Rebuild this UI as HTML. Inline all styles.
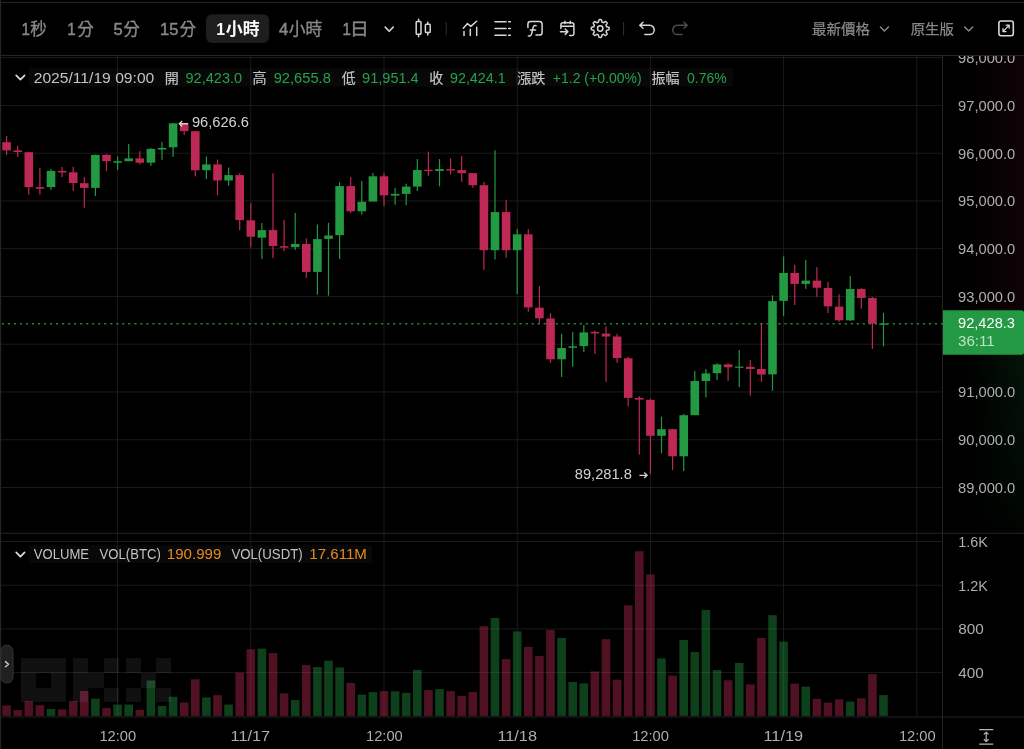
<!DOCTYPE html>
<html><head><meta charset="utf-8"><title>Chart</title>
<style>
html,body{margin:0;padding:0;background:#000;overflow:hidden}
svg{display:block;opacity:0.99}
text{font-family:"Liberation Sans",sans-serif;}
</style></head>
<body>
<svg width="1024" height="749" viewBox="0 0 1024 749">
<rect width="1024" height="749" fill="#000"/>
<defs>
<linearGradient id="tr" x1="0" x2="1" y1="0" y2="0"><stop offset="0" stop-color="#c02a55" stop-opacity="0"/><stop offset="1" stop-color="#c02a55" stop-opacity="0.085"/></linearGradient>
<linearGradient id="tg" x1="0" x2="1" y1="0" y2="0"><stop offset="0" stop-color="#239b43" stop-opacity="0"/><stop offset="1" stop-color="#239b43" stop-opacity="0.135"/></linearGradient>
<linearGradient id="fadeG" x1="0" x2="0" y1="0" y2="1"><stop offset="0" stop-color="#fff"/><stop offset="1" stop-color="#4a4a4a"/></linearGradient>
<mask id="mg"><rect x="940" y="354" width="84" height="180" fill="url(#fadeG)"/></mask>
</defs>
<rect x="962" y="56" width="62" height="254" fill="url(#tr)"/>
<rect x="962" y="354" width="62" height="180" fill="url(#tg)" mask="url(#mg)"/>
<rect x="0" y="57.14" width="942" height="1" fill="#1c1c1c"/>
<rect x="0" y="104.90" width="942" height="1" fill="#1c1c1c"/>
<rect x="0" y="152.66" width="942" height="1" fill="#1c1c1c"/>
<rect x="0" y="200.42" width="942" height="1" fill="#1c1c1c"/>
<rect x="0" y="248.18" width="942" height="1" fill="#1c1c1c"/>
<rect x="0" y="295.94" width="942" height="1" fill="#1c1c1c"/>
<rect x="0" y="343.70" width="942" height="1" fill="#1c1c1c"/>
<rect x="0" y="391.46" width="942" height="1" fill="#1c1c1c"/>
<rect x="0" y="439.22" width="942" height="1" fill="#1c1c1c"/>
<rect x="0" y="486.98" width="942" height="1" fill="#1c1c1c"/>
<rect x="0" y="541.00" width="942" height="1" fill="#1c1c1c"/>
<rect x="0" y="584.70" width="942" height="1" fill="#1c1c1c"/>
<rect x="0" y="628.40" width="942" height="1" fill="#1c1c1c"/>
<rect x="0" y="672.10" width="942" height="1" fill="#1c1c1c"/>
<rect x="117.10" y="56" width="1" height="661" fill="#1c1c1c"/>
<rect x="250.30" y="56" width="1" height="661" fill="#1c1c1c"/>
<rect x="383.50" y="56" width="1" height="661" fill="#1c1c1c"/>
<rect x="516.70" y="56" width="1" height="661" fill="#1c1c1c"/>
<rect x="649.90" y="56" width="1" height="661" fill="#1c1c1c"/>
<rect x="783.10" y="56" width="1" height="661" fill="#1c1c1c"/>
<rect x="916.30" y="56" width="1" height="661" fill="#1c1c1c"/>
<rect x="0" y="54.9" width="1024" height="1.2" fill="#252525"/>
<rect x="0" y="532.8" width="1024" height="1" fill="#252525"/>
<rect x="0" y="716.5" width="1024" height="1" fill="#252525"/>
<rect x="942" y="56" width="1" height="693" fill="#252525"/>
<rect x="0" y="0" width="1.2" height="749" fill="#252525"/>
<rect x="0" y="1.9" width="1024" height="1.1" fill="#252525"/>
<rect x="2.30" y="705.40" width="8.6" height="10.50" fill="#c02a55" fill-opacity="0.42"/>
<rect x="13.40" y="710.10" width="8.6" height="5.80" fill="#c02a55" fill-opacity="0.42"/>
<rect x="24.50" y="701.10" width="8.6" height="14.80" fill="#c02a55" fill-opacity="0.42"/>
<rect x="35.60" y="705.20" width="8.6" height="10.70" fill="#c02a55" fill-opacity="0.42"/>
<rect x="46.70" y="708.90" width="8.6" height="7.00" fill="#239b43" fill-opacity="0.42"/>
<rect x="57.80" y="709.40" width="8.6" height="6.50" fill="#c02a55" fill-opacity="0.42"/>
<rect x="68.90" y="701.10" width="8.6" height="14.80" fill="#c02a55" fill-opacity="0.42"/>
<rect x="80.00" y="691.00" width="8.6" height="24.90" fill="#c02a55" fill-opacity="0.42"/>
<rect x="91.10" y="698.60" width="8.6" height="17.30" fill="#239b43" fill-opacity="0.42"/>
<rect x="102.20" y="708.10" width="8.6" height="7.80" fill="#c02a55" fill-opacity="0.42"/>
<rect x="113.30" y="704.50" width="8.6" height="11.40" fill="#239b43" fill-opacity="0.42"/>
<rect x="124.40" y="704.50" width="8.6" height="11.40" fill="#239b43" fill-opacity="0.42"/>
<rect x="135.50" y="709.80" width="8.6" height="6.10" fill="#c02a55" fill-opacity="0.42"/>
<rect x="146.60" y="680.50" width="8.6" height="35.40" fill="#239b43" fill-opacity="0.42"/>
<rect x="157.70" y="705.90" width="8.6" height="10.00" fill="#239b43" fill-opacity="0.42"/>
<rect x="168.80" y="696.70" width="8.6" height="19.20" fill="#239b43" fill-opacity="0.42"/>
<rect x="179.90" y="702.50" width="8.6" height="13.40" fill="#c02a55" fill-opacity="0.42"/>
<rect x="191.00" y="679.30" width="8.6" height="36.60" fill="#c02a55" fill-opacity="0.42"/>
<rect x="202.10" y="697.40" width="8.6" height="18.50" fill="#239b43" fill-opacity="0.42"/>
<rect x="213.20" y="695.20" width="8.6" height="20.70" fill="#c02a55" fill-opacity="0.42"/>
<rect x="224.30" y="704.50" width="8.6" height="11.40" fill="#239b43" fill-opacity="0.42"/>
<rect x="235.40" y="672.70" width="8.6" height="43.20" fill="#c02a55" fill-opacity="0.42"/>
<rect x="246.50" y="649.20" width="8.6" height="66.70" fill="#c02a55" fill-opacity="0.42"/>
<rect x="257.60" y="648.60" width="8.6" height="67.30" fill="#239b43" fill-opacity="0.42"/>
<rect x="268.70" y="653.10" width="8.6" height="62.80" fill="#c02a55" fill-opacity="0.42"/>
<rect x="279.80" y="693.30" width="8.6" height="22.60" fill="#c02a55" fill-opacity="0.42"/>
<rect x="290.90" y="700.10" width="8.6" height="15.80" fill="#239b43" fill-opacity="0.42"/>
<rect x="302.00" y="664.90" width="8.6" height="51.00" fill="#c02a55" fill-opacity="0.42"/>
<rect x="313.10" y="667.10" width="8.6" height="48.80" fill="#239b43" fill-opacity="0.42"/>
<rect x="324.20" y="660.60" width="8.6" height="55.30" fill="#239b43" fill-opacity="0.42"/>
<rect x="335.30" y="667.40" width="8.6" height="48.50" fill="#239b43" fill-opacity="0.42"/>
<rect x="346.40" y="682.90" width="8.6" height="33.00" fill="#c02a55" fill-opacity="0.42"/>
<rect x="357.50" y="694.60" width="8.6" height="21.30" fill="#239b43" fill-opacity="0.42"/>
<rect x="368.60" y="692.10" width="8.6" height="23.80" fill="#239b43" fill-opacity="0.42"/>
<rect x="379.70" y="691.10" width="8.6" height="24.80" fill="#c02a55" fill-opacity="0.42"/>
<rect x="390.80" y="691.30" width="8.6" height="24.60" fill="#239b43" fill-opacity="0.42"/>
<rect x="401.90" y="692.80" width="8.6" height="23.10" fill="#239b43" fill-opacity="0.42"/>
<rect x="413.00" y="669.90" width="8.6" height="46.00" fill="#239b43" fill-opacity="0.42"/>
<rect x="424.10" y="690.10" width="8.6" height="25.80" fill="#c02a55" fill-opacity="0.42"/>
<rect x="435.20" y="689.10" width="8.6" height="26.80" fill="#239b43" fill-opacity="0.42"/>
<rect x="446.30" y="691.10" width="8.6" height="24.80" fill="#c02a55" fill-opacity="0.42"/>
<rect x="457.40" y="695.80" width="8.6" height="20.10" fill="#c02a55" fill-opacity="0.42"/>
<rect x="468.50" y="692.10" width="8.6" height="23.80" fill="#c02a55" fill-opacity="0.42"/>
<rect x="479.60" y="626.20" width="8.6" height="89.70" fill="#c02a55" fill-opacity="0.42"/>
<rect x="490.70" y="617.90" width="8.6" height="98.00" fill="#239b43" fill-opacity="0.42"/>
<rect x="501.80" y="659.10" width="8.6" height="56.80" fill="#c02a55" fill-opacity="0.42"/>
<rect x="512.90" y="631.40" width="8.6" height="84.50" fill="#239b43" fill-opacity="0.42"/>
<rect x="524.00" y="646.90" width="8.6" height="69.00" fill="#c02a55" fill-opacity="0.42"/>
<rect x="535.10" y="655.90" width="8.6" height="60.00" fill="#c02a55" fill-opacity="0.42"/>
<rect x="546.20" y="629.90" width="8.6" height="86.00" fill="#c02a55" fill-opacity="0.42"/>
<rect x="557.30" y="637.90" width="8.6" height="78.00" fill="#239b43" fill-opacity="0.42"/>
<rect x="568.40" y="681.90" width="8.6" height="34.00" fill="#239b43" fill-opacity="0.42"/>
<rect x="579.50" y="683.40" width="8.6" height="32.50" fill="#239b43" fill-opacity="0.42"/>
<rect x="590.60" y="671.40" width="8.6" height="44.50" fill="#c02a55" fill-opacity="0.42"/>
<rect x="601.70" y="639.10" width="8.6" height="76.80" fill="#c02a55" fill-opacity="0.42"/>
<rect x="612.80" y="679.60" width="8.6" height="36.30" fill="#c02a55" fill-opacity="0.42"/>
<rect x="623.90" y="605.40" width="8.6" height="110.50" fill="#c02a55" fill-opacity="0.42"/>
<rect x="635.00" y="551.20" width="8.6" height="164.70" fill="#c02a55" fill-opacity="0.42"/>
<rect x="646.10" y="574.50" width="8.6" height="141.40" fill="#c02a55" fill-opacity="0.42"/>
<rect x="657.20" y="658.40" width="8.6" height="57.50" fill="#239b43" fill-opacity="0.42"/>
<rect x="668.30" y="675.60" width="8.6" height="40.30" fill="#c02a55" fill-opacity="0.42"/>
<rect x="679.40" y="639.90" width="8.6" height="76.00" fill="#239b43" fill-opacity="0.42"/>
<rect x="690.50" y="652.10" width="8.6" height="63.80" fill="#239b43" fill-opacity="0.42"/>
<rect x="701.60" y="609.90" width="8.6" height="106.00" fill="#239b43" fill-opacity="0.42"/>
<rect x="712.70" y="670.10" width="8.6" height="45.80" fill="#239b43" fill-opacity="0.42"/>
<rect x="723.80" y="680.20" width="8.6" height="35.70" fill="#c02a55" fill-opacity="0.42"/>
<rect x="734.90" y="662.90" width="8.6" height="53.00" fill="#239b43" fill-opacity="0.42"/>
<rect x="746.00" y="684.40" width="8.6" height="31.50" fill="#c02a55" fill-opacity="0.42"/>
<rect x="757.10" y="637.90" width="8.6" height="78.00" fill="#c02a55" fill-opacity="0.42"/>
<rect x="768.20" y="615.20" width="8.6" height="100.70" fill="#239b43" fill-opacity="0.42"/>
<rect x="779.30" y="641.60" width="8.6" height="74.30" fill="#239b43" fill-opacity="0.42"/>
<rect x="790.40" y="683.60" width="8.6" height="32.30" fill="#c02a55" fill-opacity="0.42"/>
<rect x="801.50" y="686.60" width="8.6" height="29.30" fill="#239b43" fill-opacity="0.42"/>
<rect x="812.60" y="698.80" width="8.6" height="17.10" fill="#c02a55" fill-opacity="0.42"/>
<rect x="823.70" y="702.60" width="8.6" height="13.30" fill="#c02a55" fill-opacity="0.42"/>
<rect x="834.80" y="699.30" width="8.6" height="16.60" fill="#c02a55" fill-opacity="0.42"/>
<rect x="845.90" y="701.60" width="8.6" height="14.30" fill="#239b43" fill-opacity="0.42"/>
<rect x="857.00" y="698.30" width="8.6" height="17.60" fill="#c02a55" fill-opacity="0.42"/>
<rect x="868.10" y="674.10" width="8.6" height="41.80" fill="#c02a55" fill-opacity="0.42"/>
<rect x="879.20" y="695.10" width="8.6" height="20.80" fill="#239b43" fill-opacity="0.42"/>
<path d="M20.90 658.00h15.1v14.75h-15.1ZM36.00 658.00h15.1v14.75h-15.1ZM51.10 658.00h15.1v14.75h-15.1ZM20.90 672.75h15.1v14.75h-15.1ZM51.10 672.75h15.1v14.75h-15.1ZM20.90 687.50h15.1v14.75h-15.1ZM36.00 687.50h15.1v14.75h-15.1ZM51.10 687.50h15.1v14.75h-15.1ZM73.30 658.00h15.1v14.75h-15.1ZM73.30 672.75h15.1v14.75h-15.1ZM73.30 687.50h15.1v14.75h-15.1ZM88.40 672.75h15.1v14.75h-15.1ZM103.50 658.00h15.1v14.75h-15.1ZM103.50 687.50h15.1v14.75h-15.1ZM126.00 658.00h15.1v14.75h-15.1ZM156.20 658.00h15.1v14.75h-15.1ZM141.10 672.75h15.1v14.75h-15.1ZM126.00 687.50h15.1v14.75h-15.1ZM156.20 687.50h15.1v14.75h-15.1Z" fill="#fff" fill-opacity="0.068" shape-rendering="crispEdges"/>
<rect x="6.00" y="136.00" width="1.2" height="18.90" fill="#c02a55"/>
<rect x="2.30" y="142.20" width="8.6" height="8.20" fill="#c02a55"/>
<rect x="17.10" y="145.70" width="1.2" height="11.20" fill="#c02a55"/>
<rect x="13.40" y="150.40" width="8.6" height="1.60" fill="#c02a55"/>
<rect x="28.20" y="151.60" width="1.2" height="43.00" fill="#c02a55"/>
<rect x="24.50" y="152.20" width="8.6" height="34.90" fill="#c02a55"/>
<rect x="39.30" y="168.00" width="1.2" height="26.60" fill="#c02a55"/>
<rect x="35.60" y="187.10" width="8.6" height="1.60" fill="#c02a55"/>
<rect x="50.40" y="169.00" width="1.2" height="20.90" fill="#239b43"/>
<rect x="46.70" y="170.90" width="8.6" height="16.20" fill="#239b43"/>
<rect x="61.50" y="167.00" width="1.2" height="10.00" fill="#c02a55"/>
<rect x="57.80" y="170.90" width="8.6" height="1.60" fill="#c02a55"/>
<rect x="72.60" y="166.80" width="1.2" height="24.10" fill="#c02a55"/>
<rect x="68.90" y="172.30" width="8.6" height="10.70" fill="#c02a55"/>
<rect x="83.70" y="177.00" width="1.2" height="30.90" fill="#c02a55"/>
<rect x="80.00" y="183.20" width="8.6" height="4.70" fill="#c02a55"/>
<rect x="94.80" y="154.70" width="1.2" height="41.20" fill="#239b43"/>
<rect x="91.10" y="154.90" width="8.6" height="33.00" fill="#239b43"/>
<rect x="105.90" y="154.10" width="1.2" height="17.00" fill="#c02a55"/>
<rect x="102.20" y="154.90" width="8.6" height="6.30" fill="#c02a55"/>
<rect x="117.00" y="156.50" width="1.2" height="13.50" fill="#239b43"/>
<rect x="113.30" y="161.20" width="8.6" height="1.50" fill="#239b43"/>
<rect x="128.10" y="144.00" width="1.2" height="17.20" fill="#239b43"/>
<rect x="124.40" y="158.40" width="8.6" height="2.80" fill="#239b43"/>
<rect x="139.20" y="151.20" width="1.2" height="13.30" fill="#c02a55"/>
<rect x="135.50" y="158.40" width="8.6" height="4.30" fill="#c02a55"/>
<rect x="150.30" y="148.10" width="1.2" height="17.80" fill="#239b43"/>
<rect x="146.60" y="148.90" width="8.6" height="13.80" fill="#239b43"/>
<rect x="161.40" y="142.00" width="1.2" height="17.80" fill="#239b43"/>
<rect x="157.70" y="147.90" width="8.6" height="1.60" fill="#239b43"/>
<rect x="172.50" y="122.90" width="1.2" height="34.00" fill="#239b43"/>
<rect x="168.80" y="123.30" width="8.6" height="24.00" fill="#239b43"/>
<rect x="183.60" y="122.90" width="1.2" height="12.10" fill="#c02a55"/>
<rect x="179.90" y="123.20" width="8.6" height="7.90" fill="#c02a55"/>
<rect x="194.70" y="131.10" width="1.2" height="45.30" fill="#c02a55"/>
<rect x="191.00" y="131.20" width="8.6" height="39.10" fill="#c02a55"/>
<rect x="205.80" y="156.50" width="1.2" height="22.50" fill="#239b43"/>
<rect x="202.10" y="164.40" width="8.6" height="5.80" fill="#239b43"/>
<rect x="216.90" y="159.50" width="1.2" height="35.70" fill="#c02a55"/>
<rect x="213.20" y="164.40" width="8.6" height="16.10" fill="#c02a55"/>
<rect x="228.00" y="167.50" width="1.2" height="18.10" fill="#239b43"/>
<rect x="224.30" y="175.10" width="8.6" height="5.40" fill="#239b43"/>
<rect x="239.10" y="173.20" width="1.2" height="56.90" fill="#c02a55"/>
<rect x="235.40" y="175.10" width="8.6" height="45.00" fill="#c02a55"/>
<rect x="250.20" y="203.00" width="1.2" height="44.50" fill="#c02a55"/>
<rect x="246.50" y="220.30" width="8.6" height="16.40" fill="#c02a55"/>
<rect x="261.30" y="223.00" width="1.2" height="35.90" fill="#239b43"/>
<rect x="257.60" y="230.10" width="8.6" height="7.60" fill="#239b43"/>
<rect x="272.40" y="173.20" width="1.2" height="85.00" fill="#c02a55"/>
<rect x="268.70" y="230.10" width="8.6" height="15.90" fill="#c02a55"/>
<rect x="283.50" y="219.80" width="1.2" height="31.30" fill="#c02a55"/>
<rect x="279.80" y="246.20" width="8.6" height="1.50" fill="#c02a55"/>
<rect x="294.60" y="213.00" width="1.2" height="36.90" fill="#239b43"/>
<rect x="290.90" y="244.00" width="8.6" height="3.20" fill="#239b43"/>
<rect x="305.70" y="238.40" width="1.2" height="39.60" fill="#c02a55"/>
<rect x="302.00" y="244.00" width="8.6" height="27.90" fill="#c02a55"/>
<rect x="316.80" y="224.50" width="1.2" height="70.20" fill="#239b43"/>
<rect x="313.10" y="239.10" width="8.6" height="32.80" fill="#239b43"/>
<rect x="327.90" y="222.80" width="1.2" height="72.90" fill="#239b43"/>
<rect x="324.20" y="235.50" width="8.6" height="3.40" fill="#239b43"/>
<rect x="339.00" y="182.20" width="1.2" height="76.70" fill="#239b43"/>
<rect x="335.30" y="186.10" width="8.6" height="49.10" fill="#239b43"/>
<rect x="350.10" y="177.10" width="1.2" height="36.10" fill="#c02a55"/>
<rect x="346.40" y="186.10" width="8.6" height="25.20" fill="#c02a55"/>
<rect x="361.20" y="181.00" width="1.2" height="33.70" fill="#239b43"/>
<rect x="357.50" y="201.80" width="8.6" height="9.50" fill="#239b43"/>
<rect x="372.30" y="172.90" width="1.2" height="28.60" fill="#239b43"/>
<rect x="368.60" y="176.30" width="8.6" height="25.20" fill="#239b43"/>
<rect x="383.40" y="172.90" width="1.2" height="33.30" fill="#c02a55"/>
<rect x="379.70" y="176.30" width="8.6" height="19.10" fill="#c02a55"/>
<rect x="394.50" y="187.80" width="1.2" height="17.10" fill="#239b43"/>
<rect x="390.80" y="193.90" width="8.6" height="1.70" fill="#239b43"/>
<rect x="405.60" y="183.70" width="1.2" height="21.50" fill="#239b43"/>
<rect x="401.90" y="186.60" width="8.6" height="7.30" fill="#239b43"/>
<rect x="416.70" y="159.00" width="1.2" height="32.00" fill="#239b43"/>
<rect x="413.00" y="170.00" width="8.6" height="16.60" fill="#239b43"/>
<rect x="427.80" y="151.60" width="1.2" height="24.30" fill="#c02a55"/>
<rect x="424.10" y="169.80" width="8.6" height="1.30" fill="#c02a55"/>
<rect x="438.90" y="159.10" width="1.2" height="27.30" fill="#239b43"/>
<rect x="435.20" y="169.10" width="8.6" height="1.90" fill="#239b43"/>
<rect x="450.00" y="158.30" width="1.2" height="16.20" fill="#c02a55"/>
<rect x="446.30" y="169.10" width="8.6" height="1.40" fill="#c02a55"/>
<rect x="461.10" y="156.10" width="1.2" height="25.70" fill="#c02a55"/>
<rect x="457.40" y="170.10" width="8.6" height="3.10" fill="#c02a55"/>
<rect x="472.20" y="173.20" width="1.2" height="14.50" fill="#c02a55"/>
<rect x="468.50" y="173.20" width="8.6" height="12.00" fill="#c02a55"/>
<rect x="483.30" y="182.00" width="1.2" height="87.80" fill="#c02a55"/>
<rect x="479.60" y="185.20" width="8.6" height="65.00" fill="#c02a55"/>
<rect x="494.40" y="150.30" width="1.2" height="109.20" fill="#239b43"/>
<rect x="490.70" y="212.10" width="8.6" height="38.10" fill="#239b43"/>
<rect x="505.50" y="200.10" width="1.2" height="57.70" fill="#c02a55"/>
<rect x="501.80" y="212.10" width="8.6" height="38.10" fill="#c02a55"/>
<rect x="516.60" y="229.00" width="1.2" height="65.00" fill="#239b43"/>
<rect x="512.90" y="234.30" width="8.6" height="15.90" fill="#239b43"/>
<rect x="527.70" y="229.20" width="1.2" height="82.50" fill="#c02a55"/>
<rect x="524.00" y="234.30" width="8.6" height="73.10" fill="#c02a55"/>
<rect x="538.80" y="286.10" width="1.2" height="36.80" fill="#c02a55"/>
<rect x="535.10" y="307.70" width="8.6" height="10.60" fill="#c02a55"/>
<rect x="549.90" y="313.10" width="1.2" height="49.80" fill="#c02a55"/>
<rect x="546.20" y="318.50" width="8.6" height="40.80" fill="#c02a55"/>
<rect x="561.00" y="333.60" width="1.2" height="43.30" fill="#239b43"/>
<rect x="557.30" y="348.00" width="8.6" height="11.30" fill="#239b43"/>
<rect x="572.10" y="331.90" width="1.2" height="34.90" fill="#239b43"/>
<rect x="568.40" y="346.30" width="8.6" height="1.50" fill="#239b43"/>
<rect x="583.20" y="325.10" width="1.2" height="27.10" fill="#239b43"/>
<rect x="579.50" y="332.40" width="8.6" height="13.70" fill="#239b43"/>
<rect x="594.30" y="330.70" width="1.2" height="23.20" fill="#c02a55"/>
<rect x="590.60" y="331.90" width="8.6" height="1.50" fill="#c02a55"/>
<rect x="605.40" y="326.30" width="1.2" height="55.50" fill="#c02a55"/>
<rect x="601.70" y="333.60" width="8.6" height="2.90" fill="#c02a55"/>
<rect x="616.50" y="333.60" width="1.2" height="29.30" fill="#c02a55"/>
<rect x="612.80" y="336.50" width="8.6" height="21.50" fill="#c02a55"/>
<rect x="627.60" y="356.60" width="1.2" height="49.80" fill="#c02a55"/>
<rect x="623.90" y="358.30" width="8.6" height="39.60" fill="#c02a55"/>
<rect x="638.70" y="396.20" width="1.2" height="58.40" fill="#c02a55"/>
<rect x="635.00" y="397.90" width="8.6" height="1.70" fill="#c02a55"/>
<rect x="649.80" y="398.60" width="1.2" height="75.50" fill="#c02a55"/>
<rect x="646.10" y="399.80" width="8.6" height="36.00" fill="#c02a55"/>
<rect x="660.90" y="416.70" width="1.2" height="36.70" fill="#239b43"/>
<rect x="657.20" y="429.20" width="8.6" height="6.60" fill="#239b43"/>
<rect x="672.00" y="428.90" width="1.2" height="41.10" fill="#c02a55"/>
<rect x="668.30" y="429.20" width="8.6" height="27.10" fill="#c02a55"/>
<rect x="683.10" y="413.80" width="1.2" height="57.20" fill="#239b43"/>
<rect x="679.40" y="415.20" width="8.6" height="41.10" fill="#239b43"/>
<rect x="694.20" y="371.00" width="1.2" height="44.20" fill="#239b43"/>
<rect x="690.50" y="381.00" width="8.6" height="34.20" fill="#239b43"/>
<rect x="705.30" y="369.00" width="1.2" height="28.40" fill="#239b43"/>
<rect x="701.60" y="373.40" width="8.6" height="7.60" fill="#239b43"/>
<rect x="716.40" y="363.20" width="1.2" height="16.80" fill="#239b43"/>
<rect x="712.70" y="364.40" width="8.6" height="8.80" fill="#239b43"/>
<rect x="727.50" y="363.20" width="1.2" height="17.60" fill="#c02a55"/>
<rect x="723.80" y="364.40" width="8.6" height="2.90" fill="#c02a55"/>
<rect x="738.60" y="350.00" width="1.2" height="37.10" fill="#239b43"/>
<rect x="734.90" y="366.60" width="8.6" height="1.20" fill="#239b43"/>
<rect x="749.70" y="360.00" width="1.2" height="35.70" fill="#c02a55"/>
<rect x="746.00" y="366.80" width="8.6" height="2.20" fill="#c02a55"/>
<rect x="760.80" y="323.10" width="1.2" height="58.70" fill="#c02a55"/>
<rect x="757.10" y="369.00" width="8.6" height="5.50" fill="#c02a55"/>
<rect x="771.90" y="295.30" width="1.2" height="95.50" fill="#239b43"/>
<rect x="768.20" y="301.10" width="8.6" height="73.30" fill="#239b43"/>
<rect x="783.00" y="256.40" width="1.2" height="59.60" fill="#239b43"/>
<rect x="779.30" y="273.00" width="8.6" height="27.90" fill="#239b43"/>
<rect x="794.10" y="264.80" width="1.2" height="40.20" fill="#c02a55"/>
<rect x="790.40" y="273.00" width="8.6" height="10.90" fill="#c02a55"/>
<rect x="805.20" y="259.90" width="1.2" height="28.90" fill="#239b43"/>
<rect x="801.50" y="280.60" width="8.6" height="3.30" fill="#239b43"/>
<rect x="816.30" y="267.10" width="1.2" height="29.70" fill="#c02a55"/>
<rect x="812.60" y="280.60" width="8.6" height="7.10" fill="#c02a55"/>
<rect x="827.40" y="281.80" width="1.2" height="31.20" fill="#c02a55"/>
<rect x="823.70" y="287.90" width="8.6" height="18.50" fill="#c02a55"/>
<rect x="838.50" y="294.30" width="1.2" height="27.30" fill="#c02a55"/>
<rect x="834.80" y="306.60" width="8.6" height="13.70" fill="#c02a55"/>
<rect x="849.60" y="276.10" width="1.2" height="44.80" fill="#239b43"/>
<rect x="845.90" y="289.00" width="8.6" height="31.30" fill="#239b43"/>
<rect x="860.70" y="288.20" width="1.2" height="20.60" fill="#c02a55"/>
<rect x="857.00" y="289.00" width="8.6" height="9.00" fill="#c02a55"/>
<rect x="871.80" y="296.80" width="1.2" height="52.20" fill="#c02a55"/>
<rect x="868.10" y="298.00" width="8.6" height="25.60" fill="#c02a55"/>
<rect x="882.90" y="312.90" width="1.2" height="33.60" fill="#239b43"/>
<rect x="879.20" y="323.50" width="8.6" height="1.30" fill="#239b43"/>
<line x1="1.77" y1="323.8" x2="943" y2="323.8" stroke="#239b43" stroke-width="1.5" stroke-opacity="0.85" stroke-dasharray="2.3 3.72"/>
<clipPath id="axc"><rect x="943" y="56" width="81" height="477"/></clipPath><g clip-path="url(#axc)">
<text x="958.10" y="63.15" font-size="14" fill="#b0b0b0" textLength="57.20" lengthAdjust="spacingAndGlyphs">98,000.0</text>
<text x="958.10" y="110.91" font-size="14" fill="#b0b0b0" textLength="57.20" lengthAdjust="spacingAndGlyphs">97,000.0</text>
<text x="958.10" y="158.67" font-size="14" fill="#b0b0b0" textLength="57.20" lengthAdjust="spacingAndGlyphs">96,000.0</text>
<text x="958.10" y="206.43" font-size="14" fill="#b0b0b0" textLength="57.20" lengthAdjust="spacingAndGlyphs">95,000.0</text>
<text x="958.10" y="254.19" font-size="14" fill="#b0b0b0" textLength="57.20" lengthAdjust="spacingAndGlyphs">94,000.0</text>
<text x="958.10" y="301.95" font-size="14" fill="#b0b0b0" textLength="57.20" lengthAdjust="spacingAndGlyphs">93,000.0</text>
<text x="958.10" y="397.47" font-size="14" fill="#b0b0b0" textLength="57.20" lengthAdjust="spacingAndGlyphs">91,000.0</text>
<text x="958.10" y="445.23" font-size="14" fill="#b0b0b0" textLength="57.20" lengthAdjust="spacingAndGlyphs">90,000.0</text>
<text x="958.10" y="492.99" font-size="14" fill="#b0b0b0" textLength="57.20" lengthAdjust="spacingAndGlyphs">89,000.0</text>
</g>
<text x="958.20" y="547.31" font-size="14" fill="#b0b0b0" textLength="29.60" lengthAdjust="spacingAndGlyphs">1.6K</text>
<text x="958.20" y="590.91" font-size="14" fill="#b0b0b0" textLength="29.60" lengthAdjust="spacingAndGlyphs">1.2K</text>
<text x="958.20" y="634.21" font-size="14" fill="#b0b0b0" textLength="25.60" lengthAdjust="spacingAndGlyphs">800</text>
<text x="958.20" y="677.91" font-size="14" fill="#b0b0b0" textLength="25.60" lengthAdjust="spacingAndGlyphs">400</text>
<path d="M943 310.3H1021.5a2.5 2.5 0 0 1 2.5 2.5V352.2a2.5 2.5 0 0 1 -2.5 2.5H943Z" fill="#239b43"/>
<text x="958.00" y="328.11" font-size="14" fill="#fff" textLength="57.00" lengthAdjust="spacingAndGlyphs">92,428.3</text>
<text x="958.00" y="346.11" font-size="14" fill="#fff" textLength="36.70" lengthAdjust="spacingAndGlyphs" opacity="0.72">36:11</text>
<text x="99.40" y="740.51" font-size="14" fill="#b0b0b0" textLength="36.80" lengthAdjust="spacingAndGlyphs">12:00</text>
<text x="230.60" y="740.51" font-size="14" fill="#b0b0b0" textLength="39.60" lengthAdjust="spacingAndGlyphs">11/17</text>
<text x="366.00" y="740.51" font-size="14" fill="#b0b0b0" textLength="36.80" lengthAdjust="spacingAndGlyphs">12:00</text>
<text x="497.40" y="740.51" font-size="14" fill="#b0b0b0" textLength="39.60" lengthAdjust="spacingAndGlyphs">11/18</text>
<text x="632.20" y="740.51" font-size="14" fill="#b0b0b0" textLength="36.80" lengthAdjust="spacingAndGlyphs">12:00</text>
<text x="763.50" y="740.51" font-size="14" fill="#b0b0b0" textLength="39.60" lengthAdjust="spacingAndGlyphs">11/19</text>
<text x="898.90" y="740.51" font-size="14" fill="#b0b0b0" textLength="36.80" lengthAdjust="spacingAndGlyphs">12:00</text>
<g stroke="#b8b8b8" stroke-width="1.2" fill="none" stroke-linecap="round" stroke-linejoin="round"><path d="M979.6 729.6H992.8M979.6 744.1H992.8M986.2 732.4V741.3M984.2 734.2L986.2 732.2L988.2 734.2M984.2 739.5L986.2 741.5L988.2 739.5"/></g>
<text x="191.90" y="126.81" font-size="14" fill="#d6d6d6" textLength="57.10" lengthAdjust="spacingAndGlyphs">96,626.6</text>
<path d="M188 123.7H179.3M182.2 120.9L179.3 123.7L182.2 126.5" stroke="#d6d6d6" stroke-width="1.35" fill="none"/>
<text x="574.80" y="478.91" font-size="14" fill="#d6d6d6" textLength="57.00" lengthAdjust="spacingAndGlyphs">89,281.8</text>
<path d="M639.4 475.3H647.1M644.2 472.5L647.1 475.3L644.2 478.1" stroke="#d6d6d6" stroke-width="1.35" fill="none"/>
<rect x="28.8" y="68.2" width="704.2" height="18.4" fill="#fff" fill-opacity="0.036"/>
<path d="M16.2 75.4L20.4 79.7L24.6 75.4" stroke="#dedede" stroke-width="1.7" fill="none" stroke-linecap="round" stroke-linejoin="round"/>
<text x="33.70" y="82.51" font-size="14" fill="#c6c6c6" textLength="120.60" lengthAdjust="spacingAndGlyphs">2025/11/19 09:00</text>
<text x="164.75" y="83.12" font-size="14" fill="#c6c6c6" stroke="#c6c6c6" stroke-width="0.2" style="font-family:'Liberation Sans','Noto Sans CJK TC',sans-serif">開</text>
<text x="185.50" y="82.51" font-size="14" fill="#26a34b" textLength="56.70" lengthAdjust="spacingAndGlyphs">92,423.0</text>
<text x="252.57" y="83.12" font-size="14" fill="#c6c6c6" stroke="#c6c6c6" stroke-width="0.2" style="font-family:'Liberation Sans','Noto Sans CJK TC',sans-serif">高</text>
<text x="273.70" y="82.51" font-size="14" fill="#26a34b" textLength="57.10" lengthAdjust="spacingAndGlyphs">92,655.8</text>
<text x="341.76" y="83.12" font-size="14" fill="#c6c6c6" stroke="#c6c6c6" stroke-width="0.2" style="font-family:'Liberation Sans','Noto Sans CJK TC',sans-serif">低</text>
<text x="362.10" y="82.51" font-size="14" fill="#26a34b" textLength="56.60" lengthAdjust="spacingAndGlyphs">91,951.4</text>
<text x="429.15" y="83.12" font-size="14" fill="#c6c6c6" stroke="#c6c6c6" stroke-width="0.2" style="font-family:'Liberation Sans','Noto Sans CJK TC',sans-serif">收</text>
<text x="450.00" y="82.51" font-size="14" fill="#26a34b" textLength="55.60" lengthAdjust="spacingAndGlyphs">92,424.1</text>
<text x="517.31" y="83.12" font-size="14" fill="#c6c6c6" stroke="#c6c6c6" stroke-width="0.2" textLength="28" lengthAdjust="spacingAndGlyphs" style="font-family:'Liberation Sans','Noto Sans CJK TC',sans-serif">漲跌</text>
<text x="552.80" y="82.51" font-size="14" fill="#26a34b" textLength="88.80" lengthAdjust="spacingAndGlyphs">+1.2 (+0.00%)</text>
<text x="651.58" y="83.12" font-size="14" fill="#c6c6c6" stroke="#c6c6c6" stroke-width="0.2" textLength="28" lengthAdjust="spacingAndGlyphs" style="font-family:'Liberation Sans','Noto Sans CJK TC',sans-serif">振幅</text>
<text x="687.00" y="82.51" font-size="14" fill="#26a34b" textLength="39.60" lengthAdjust="spacingAndGlyphs">0.76%</text>
<rect x="28.8" y="545.4" width="343.2" height="17.9" fill="#fff" fill-opacity="0.036"/>
<path d="M16.2 552.3L20.4 556.6L24.6 552.3" stroke="#dedede" stroke-width="1.7" fill="none" stroke-linecap="round" stroke-linejoin="round"/>
<text x="33.80" y="559.41" font-size="14" fill="#c6c6c6" textLength="55.30" lengthAdjust="spacingAndGlyphs">VOLUME</text>
<text x="99.60" y="559.41" font-size="14" fill="#c6c6c6" textLength="61.20" lengthAdjust="spacingAndGlyphs">VOL(BTC)</text>
<text x="166.80" y="559.41" font-size="14" fill="#e68c20" textLength="54.50" lengthAdjust="spacingAndGlyphs">190.999</text>
<text x="231.40" y="559.41" font-size="14" fill="#c6c6c6" textLength="71.30" lengthAdjust="spacingAndGlyphs">VOL(USDT)</text>
<text x="309.30" y="559.41" font-size="14" fill="#e68c20" textLength="57.60" lengthAdjust="spacingAndGlyphs">17.611M</text>
<rect x="0.7" y="645.1" width="12.3" height="38" rx="6.1" fill="#212121" stroke="#353535" stroke-width="1"/>
<path d="M5.5 661.6L8.5 664.2L5.5 666.8" stroke="#d0d0d0" stroke-width="1.4" fill="none" stroke-linecap="round" stroke-linejoin="round"/>
<rect x="206" y="14.2" width="63.2" height="28.8" rx="6" fill="#1f1f1f"/>
<text x="21.40" y="34.73" font-size="16" fill="#8a8a8a" stroke="#8a8a8a" stroke-width="0.45" textLength="8.40" lengthAdjust="spacingAndGlyphs">1</text>
<text x="30.37" y="35.44" font-size="16.56" fill="#8a8a8a" stroke="#8a8a8a" stroke-width="0.35" style="font-family:'Liberation Sans','Noto Sans CJK TC',sans-serif">秒</text>
<text x="67.30" y="34.73" font-size="16" fill="#8a8a8a" stroke="#8a8a8a" stroke-width="0.45" textLength="8.40" lengthAdjust="spacingAndGlyphs">1</text>
<text x="77.14" y="35.44" font-size="16.56" fill="#8a8a8a" stroke="#8a8a8a" stroke-width="0.35" style="font-family:'Liberation Sans','Noto Sans CJK TC',sans-serif">分</text>
<text x="113.40" y="34.73" font-size="16" fill="#8a8a8a" stroke="#8a8a8a" stroke-width="0.45" textLength="9.20" lengthAdjust="spacingAndGlyphs">5</text>
<text x="123.34" y="35.44" font-size="16.56" fill="#8a8a8a" stroke="#8a8a8a" stroke-width="0.35" style="font-family:'Liberation Sans','Noto Sans CJK TC',sans-serif">分</text>
<text x="160.00" y="34.73" font-size="16" fill="#8a8a8a" stroke="#8a8a8a" stroke-width="0.45" textLength="18.40" lengthAdjust="spacingAndGlyphs">15</text>
<text x="179.44" y="35.44" font-size="16.56" fill="#8a8a8a" stroke="#8a8a8a" stroke-width="0.35" style="font-family:'Liberation Sans','Noto Sans CJK TC',sans-serif">分</text>
<text x="216.20" y="34.73" font-size="16" fill="#ffffff" font-weight="bold" textLength="8.80" lengthAdjust="spacingAndGlyphs">1</text>
<text x="225.84" y="35.44" font-size="16.56" fill="#ffffff" font-weight="bold" textLength="33.9" lengthAdjust="spacingAndGlyphs" style="font-family:'Liberation Sans','Noto Sans CJK TC',sans-serif">小時</text>
<text x="279.00" y="34.73" font-size="16" fill="#8a8a8a" stroke="#8a8a8a" stroke-width="0.45" textLength="9.20" lengthAdjust="spacingAndGlyphs">4</text>
<text x="288.74" y="35.44" font-size="16.56" fill="#8a8a8a" stroke="#8a8a8a" stroke-width="0.35" textLength="33.6" lengthAdjust="spacingAndGlyphs" style="font-family:'Liberation Sans','Noto Sans CJK TC',sans-serif">小時</text>
<text x="342.40" y="34.73" font-size="16" fill="#8a8a8a" stroke="#8a8a8a" stroke-width="0.45" textLength="8.40" lengthAdjust="spacingAndGlyphs">1</text>
<text x="349.83" y="35.44" font-size="16.56" fill="#8a8a8a" stroke="#8a8a8a" stroke-width="0.35" textLength="19.2" lengthAdjust="spacingAndGlyphs" style="font-family:'Liberation Sans','Noto Sans CJK TC',sans-serif">日</text>
<path d="M385.20 27.10L389.20 31.30L393.20 27.10" stroke="#d4d4d4" stroke-width="1.6" fill="none" stroke-linecap="round" stroke-linejoin="round"/>
<g stroke="#dadada" stroke-width="1.5" fill="none" stroke-linecap="round" stroke-linejoin="round">
<rect x="416.2" y="21.4" width="4.8" height="12.8" rx="0.8"/><path d="M418.6 19.3V21.4M418.6 34.2V36.8"/>
<rect x="425.4" y="24.2" width="4.8" height="8.4" rx="0.8"/><path d="M427.8 22.2V24.2M427.8 32.6V35"/>
<path d="M463.3 28.2L467.5 23.6L470.8 26.4L476.6 21.2M464 31.4V35.6M470.3 29.2V35.6M476.7 27.2V35.6"/>
<path d="M495 21.8H506M495 28.5H506M495 35.2H506M508.6 21.8H510.4M508.6 28.5H510.4M508.6 35.2H510.4"/>
<path d="M527.9 27.6V24a2.6 2.6 0 0 1 2.6 -2.6H539.5a2.6 2.6 0 0 1 2.6 2.6V32.4a2.6 2.6 0 0 1 -2.6 2.6H536"/>
<path d="M528.3 35.9C530.4 36.6 531.4 35.2 531.9 32.8L533 27.8C533.5 25.6 534.6 25 536.1 25.7M530.4 30.1H535.6" stroke-width="1.5"/>
<path d="M560.9 28.6V24.8a2 2 0 0 1 2 -2H571.9a2 2 0 0 1 2 2V33.6a2 2 0 0 1 -2 2H569.6M560.9 26.2H573.9M564.9 21.2V23.4M570.3 21.2V23.4M560.4 31.7H567.6M565.2 29L567.9 31.7L565.2 34.4"/>
</g>
<path d="M600.20 19.60L600.55 19.61L600.90 19.63L601.25 19.66L601.51 20.25L601.71 20.90L601.87 21.55L601.99 22.15L602.24 22.22L602.48 22.31L602.73 22.40L602.96 22.51L603.20 22.62L603.43 22.74L603.93 22.41L604.51 22.06L605.11 21.74L605.71 21.51L605.98 21.73L606.24 21.96L606.49 22.21L606.74 22.46L606.97 22.72L607.19 22.99L606.96 23.59L606.64 24.19L606.29 24.77L605.96 25.27L606.08 25.50L606.19 25.74L606.30 25.97L606.39 26.22L606.48 26.46L606.55 26.71L607.15 26.83L607.80 26.99L608.45 27.19L609.04 27.45L609.07 27.80L609.09 28.15L609.10 28.50L609.09 28.85L609.07 29.20L609.04 29.55L608.45 29.81L607.80 30.01L607.15 30.17L606.55 30.29L606.48 30.54L606.39 30.78L606.30 31.03L606.19 31.26L606.08 31.50L605.96 31.73L606.29 32.23L606.64 32.81L606.96 33.41L607.19 34.01L606.97 34.28L606.74 34.54L606.49 34.79L606.24 35.04L605.98 35.27L605.71 35.49L605.11 35.26L604.51 34.94L603.93 34.59L603.43 34.26L603.20 34.38L602.96 34.49L602.73 34.60L602.48 34.69L602.24 34.78L601.99 34.85L601.87 35.45L601.71 36.10L601.51 36.75L601.25 37.34L600.90 37.37L600.55 37.39L600.20 37.40L599.85 37.39L599.50 37.37L599.15 37.34L598.89 36.75L598.69 36.10L598.53 35.45L598.41 34.85L598.16 34.78L597.92 34.69L597.67 34.60L597.44 34.49L597.20 34.38L596.97 34.26L596.47 34.59L595.89 34.94L595.29 35.26L594.69 35.49L594.42 35.27L594.16 35.04L593.91 34.79L593.66 34.54L593.43 34.28L593.21 34.01L593.44 33.41L593.76 32.81L594.11 32.23L594.44 31.73L594.32 31.50L594.21 31.26L594.10 31.03L594.01 30.78L593.92 30.54L593.85 30.29L593.25 30.17L592.60 30.01L591.95 29.81L591.36 29.55L591.33 29.20L591.31 28.85L591.30 28.50L591.31 28.15L591.33 27.80L591.36 27.45L591.95 27.19L592.60 26.99L593.25 26.83L593.85 26.71L593.92 26.46L594.01 26.22L594.10 25.97L594.21 25.74L594.32 25.50L594.44 25.27L594.11 24.77L593.76 24.19L593.44 23.59L593.21 22.99L593.43 22.72L593.66 22.46L593.91 22.21L594.16 21.96L594.42 21.73L594.69 21.51L595.29 21.74L595.89 22.06L596.47 22.41L596.97 22.74L597.20 22.62L597.44 22.51L597.67 22.40L597.92 22.31L598.16 22.22L598.41 22.15L598.53 21.55L598.69 20.90L598.89 20.25L599.15 19.66L599.50 19.63L599.85 19.61Z" stroke="#dadada" stroke-width="1.5" fill="none" stroke-linejoin="round"/>
<circle cx="600.2" cy="28.5" r="2.7" stroke="#dadada" stroke-width="1.5" fill="none"/>
<rect x="445.7" y="22.2" width="1" height="13.2" fill="#333"/>
<rect x="623.1" y="22.2" width="1" height="13.2" fill="#333"/>
<path d="M643 22.3L639.8 25.3L643 28.3M640 25.3H649.6a4.6 4.6 0 0 1 0 9.2H644.8" stroke="#dadada" stroke-width="1.5" fill="none" stroke-linecap="round" stroke-linejoin="round"/>
<path d="M684 22.3L687.2 25.3L684 28.3M687 25.3H677.4a4.6 4.6 0 0 0 0 9.2H682.2" stroke="#4d4d4d" stroke-width="1.5" fill="none" stroke-linecap="round" stroke-linejoin="round"/>
<text x="812.10" y="34.40" font-size="14.2" fill="#8a8a8a" stroke="#8a8a8a" stroke-width="0.25" textLength="57.8" lengthAdjust="spacingAndGlyphs" style="font-family:'Liberation Sans','Noto Sans CJK TC',sans-serif">最新價格</text>
<path d="M880.40 27.00L884.40 31.00L888.40 27.00" stroke="#8a8a8a" stroke-width="1.5" fill="none" stroke-linecap="round" stroke-linejoin="round"/>
<text x="910.69" y="34.40" font-size="14.2" fill="#8a8a8a" stroke="#8a8a8a" stroke-width="0.25" textLength="43.2" lengthAdjust="spacingAndGlyphs" style="font-family:'Liberation Sans','Noto Sans CJK TC',sans-serif">原生版</text>
<path d="M964.70 27.00L968.70 31.00L972.70 27.00" stroke="#8a8a8a" stroke-width="1.5" fill="none" stroke-linecap="round" stroke-linejoin="round"/>
<rect x="998.9" y="21.0" width="14.4" height="14.8" rx="2.2" stroke="#dadada" stroke-width="1.6" fill="none"/>
<path d="M1003.3 31.4L1008.9 25.4M1006.2 25.2H1009.2V28.2M1003 28.6V31.6H1006" stroke="#dadada" stroke-width="1.3" fill="none" stroke-linecap="round" stroke-linejoin="round"/>
</svg>
</body></html>
